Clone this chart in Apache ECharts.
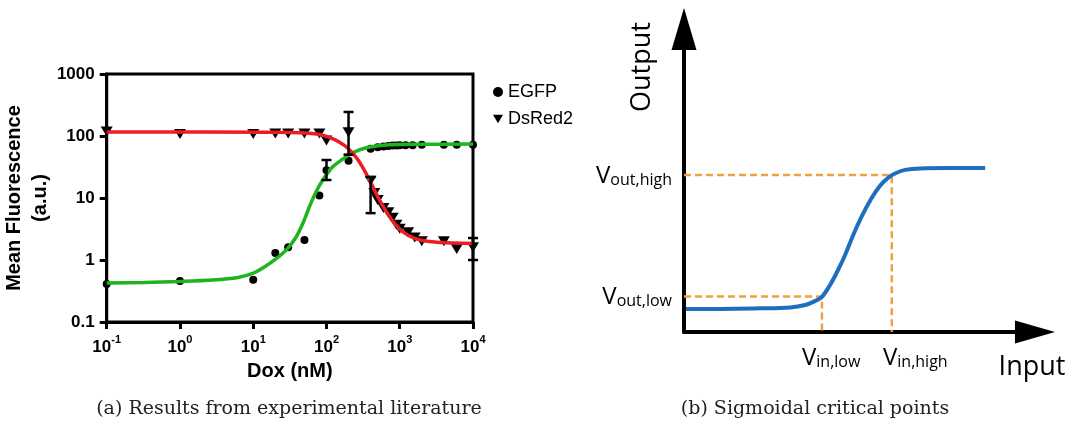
<!DOCTYPE html>
<html><head><meta charset="utf-8">
<script src="https://cdn.jsdelivr.net/npm/echarts@6/dist/echarts.min.js"></script>
<style>html,body{margin:0;padding:0;background:#fff}#c{width:1069px;height:425px}</style>
</head><body><div id="c"></div>
<script>
// ---- Panel (a): experimental data ----
const doxEGFP = [0.1, 1, 10, 20, 30, 50, 80, 100, 200, 400, 500, 600, 700, 800, 900, 1000, 1200, 1500, 2000, 4000, 6000, 10000];
const egfp    = [0.41, 0.46, 0.48, 1.3, 1.6, 2.1, 11, 28, 40, 62, 66, 68, 69, 70, 70, 71, 71, 71, 72, 72, 72, 72];
const doxDsRed = [0.1, 1, 10, 20, 30, 50, 80, 100, 200, 400, 450, 500, 600, 700, 800, 900, 1000, 1300, 1600, 2000, 4000, 6000, 10000];
const dsred    = [118, 108, 108, 110, 110, 110, 110, 85, 115, 19, 12, 9.3, 6.9, 5.9, 4.8, 3.7, 3.2, 2.8, 2.3, 2.0, 2.0, 1.5, 1.6];
// error bars: [dox, low, high]
const errDox  = [100, 200, 400, 10000];
const errLow  = [19.5, 50, 5.7, 1.0];
const errHigh = [41, 244, 21.8, 2.26];
// fitted curves
const fitGreenX = [0.1, 0.325, 1, 2.8, 6.2, 9.8, 14.2, 20.4, 29, 38.5, 47.8, 59, 73, 90.8, 117, 160, 232, 360, 650, 1900, 10000];
const fitGreenY = [0.425, 0.433, 0.45, 0.475, 0.522, 0.606, 0.771, 1.04, 1.5, 2.35, 3.95, 7.43, 12.97, 20.2, 30.5, 41, 54.2, 65.3, 71.6, 73.5, 74];
const fitRedX = [0.1, 2.08, 33.9, 73.6, 107, 145, 198, 270, 369, 502, 685, 934, 1313, 2026, 3540, 10000];
const fitRedY = [116, 116, 114, 108, 96, 81.5, 62.8, 41, 21.8, 10.4, 5.52, 3.4, 2.48, 2.06, 1.92, 1.85];
const xTickExps = [-1, 0, 1, 2, 3, 4];
const yTickLabels = ['0.1', '1', '10', '100', '1000'];

// ---- Panel (b): schematic sigmoid ----
const sigX = [0.57, 10.3, 21.7, 30.2, 34.5, 37.3, 39.3, 41.6, 43.6, 45.9, 48.1, 50.7, 53.3, 55.8, 58.1, 60.1, 63.0, 67.2, 75.8, 85.8];
const sigY = [7.6, 7.6, 7.8, 8.1, 8.9, 10.2, 11.6, 15.5, 19.8, 25.4, 31.7, 38.3, 43.9, 48.2, 50.8, 52.3, 53.5, 54.0, 54.1, 54.1];
const vLow = 11.7, vHigh = 51.8, inLow = 39.3, inHigh = 59.2;

const zip = (a, b) => a.map((v, i) => [v, b[i]]);
const triDown = 'path://M0,0 L12,0 L6,10 Z';
const SANS = 'Liberation Sans, Arial, sans-serif';
const OSANS = 'Open Sans, Liberation Sans, sans-serif';
const subRich = {
  v: {fontFamily: OSANS, fontSize: 24, color: '#000', verticalAlign: 'bottom', lineHeight: 26},
  s: {fontFamily: OSANS, fontSize: 16, color: '#000', verticalAlign: 'bottom', lineHeight: 22}
};

const chart = echarts.init(document.getElementById('c'));
chart.setOption({
  animation: false,
  backgroundColor: '#fff',
  grid: [
    {left: 102, top: 74, width: 371, height: 248, show: true, borderColor: '#000', borderWidth: 3, backgroundColor: 'transparent'},
    {left: 684, top: 29, width: 351, height: 303}
  ],
  legend: {
    data: [{name: 'EGFP', icon: 'circle'}, {name: 'DsRed2', icon: triDown}],
    orient: 'vertical', left: 488, top: 78, itemWidth: 10, itemHeight: 10, itemGap: 9,
    textStyle: {fontFamily: SANS, fontSize: 18, color: '#000'}
  },
  xAxis: [
    {
      gridIndex: 0, type: 'log', logBase: 10, min: 0.1, max: 10000,
      axisLine: {lineStyle: {color: '#000', width: 3}},
      axisTick: {length: 7, lineStyle: {color: '#000', width: 3}},
      minorTick: {show: false}, splitLine: {show: false},
      axisLabel: {
        margin: 12,
        formatter: v => { const e = Math.round(Math.log10(v)); return xTickExps.includes(e) ? '{b|10}{s|' + e + '}' : ''; },
        rich: {
          b: {fontFamily: SANS, fontWeight: 'bold', fontSize: 17, color: '#000', verticalAlign: 'bottom', lineHeight: 22},
          s: {fontFamily: SANS, fontWeight: 'bold', fontSize: 11, color: '#000', verticalAlign: 'top', lineHeight: 22}
        }
      },
      name: 'Dox (nM)', nameLocation: 'middle', nameGap: 39,
      nameTextStyle: {fontFamily: SANS, fontWeight: 'bold', fontSize: 20, color: '#000'}
    },
    {
      gridIndex: 1, type: 'value', min: 0, max: 100,
      axisLine: {show: true, symbol: ['none', 'triangle'], symbolSize: [23, 40], lineStyle: {color: '#000', width: 4}},
      axisTick: {show: false}, axisLabel: {show: false}, splitLine: {show: false}
    }
  ],
  yAxis: [
    {
      gridIndex: 0, type: 'log', logBase: 10, min: 0.1, max: 1000,
      axisLine: {lineStyle: {color: '#000', width: 3}},
      axisTick: {length: 7, lineStyle: {color: '#000', width: 3}},
      minorTick: {show: false}, splitLine: {show: false},
      axisLabel: {
        margin: 12, fontFamily: SANS, fontWeight: 'bold', fontSize: 17, color: '#000',
        formatter: v => yTickLabels[Math.round(Math.log10(v)) + 1] || ''
      },
      name: 'Mean Fluorescence\n(a.u.)', nameLocation: 'middle', nameGap: 42, nameRotate: 90,
      nameTextStyle: {fontFamily: SANS, fontWeight: 'bold', fontSize: 20, color: '#000', lineHeight: 26}
    },
    {
      gridIndex: 1, type: 'value', min: 0, max: 100,
      axisLine: {show: true, symbol: ['none', 'triangle'], symbolSize: [25, 42], lineStyle: {color: '#000', width: 4}},
      axisTick: {show: false}, splitLine: {show: false},
      axisLabel: {
        show: true, customValues: [vLow, vHigh], margin: 12,
        formatter: v => v === vLow ? '{v|V}{s|out,low}' : '{v|V}{s|out,high}',
        rich: subRich
      }
    }
  ],
  series: [
    {name: 'EGFP', type: 'scatter', xAxisIndex: 0, yAxisIndex: 0, data: zip(doxEGFP, egfp),
     symbol: 'circle', symbolSize: 8, itemStyle: {color: '#000', opacity: 1}, z: 3},
    {name: 'DsRed2', type: 'scatter', xAxisIndex: 0, yAxisIndex: 0, data: zip(doxDsRed, dsred),
     symbol: triDown, symbolSize: [12, 10], itemStyle: {color: '#000', opacity: 1}, z: 3},
    {name: 'EGFP fit', type: 'line', xAxisIndex: 0, yAxisIndex: 0, data: zip(fitGreenX, fitGreenY),
     showSymbol: false, smooth: 0.3, lineStyle: {color: '#1DB41D', width: 3.5}, itemStyle: {color: '#1DB41D'}, z: 4},
    {name: 'DsRed2 fit', type: 'line', xAxisIndex: 0, yAxisIndex: 0, data: zip(fitRedX, fitRedY),
     showSymbol: false, smooth: 0.3, lineStyle: {color: '#EC1C24', width: 3.5}, itemStyle: {color: '#EC1C24'}, z: 4},
    {name: 'err', type: 'custom', xAxisIndex: 0, yAxisIndex: 0,
     data: errDox.map((d, i) => [d, errLow[i], errHigh[i]]),
     encode: {x: 0, y: [1, 2]}, z: 5,
     renderItem: (params, api) => {
       const lo = api.coord([api.value(0), api.value(1)]);
       const hi = api.coord([api.value(0), api.value(2)]);
       const w = 5, st = {stroke: '#000', lineWidth: 2.5};
       return {type: 'group', children: [
         {type: 'line', shape: {x1: lo[0], y1: lo[1], x2: hi[0], y2: hi[1]}, style: st},
         {type: 'line', shape: {x1: lo[0] - w, y1: lo[1], x2: lo[0] + w, y2: lo[1]}, style: st},
         {type: 'line', shape: {x1: hi[0] - w, y1: hi[1], x2: hi[0] + w, y2: hi[1]}, style: st}
       ]};
     }},
    {name: 'sigmoid', type: 'line', xAxisIndex: 1, yAxisIndex: 1, data: zip(sigX, sigY),
     showSymbol: false, smooth: 0.3, lineStyle: {color: '#1F6DBF', width: 4}, itemStyle: {color: '#1F6DBF'}, z: 3},
    {name: 'high', type: 'line', xAxisIndex: 1, yAxisIndex: 1, data: [[0, vHigh], [inHigh, vHigh], [inHigh, 0]],
     showSymbol: false, lineStyle: {color: '#EEA23E', width: 2.5, type: [7, 4]}, z: 2},
    {name: 'low', type: 'line', xAxisIndex: 1, yAxisIndex: 1, data: [[0, vLow], [inLow, vLow], [inLow, 0]],
     showSymbol: false, lineStyle: {color: '#EEA23E', width: 2.5, type: [7, 4]}, z: 2}
  ],
  graphic: [
    {type: 'text', x: 289, y: 409, style: {text: '(a) Results from experimental literature', font: '19px DejaVu Serif', fill: '#222', align: 'center', verticalAlign: 'middle'}},
    {type: 'text', x: 815, y: 409, style: {text: '(b) Sigmoidal critical points', font: '19px DejaVu Serif', fill: '#222', align: 'center', verticalAlign: 'middle'}},
    {type: 'text', x: 642, y: 67, rotation: Math.PI / 2, style: {text: 'Output', font: '27px Open Sans', fill: '#000', align: 'center', verticalAlign: 'middle'}},
    {type: 'text', x: 1032, y: 367, style: {text: 'Input', font: '27px Open Sans', fill: '#000', align: 'center', verticalAlign: 'middle'}},
    {type: 'text', x: 802, y: 357, style: {text: '{v|V}{s|in,low}', align: 'left', verticalAlign: 'middle', rich: subRich}},
    {type: 'text', x: 883, y: 357, style: {text: '{v|V}{s|in,high}', align: 'left', verticalAlign: 'middle', rich: subRich}}
  ]
});
</script></body></html>
